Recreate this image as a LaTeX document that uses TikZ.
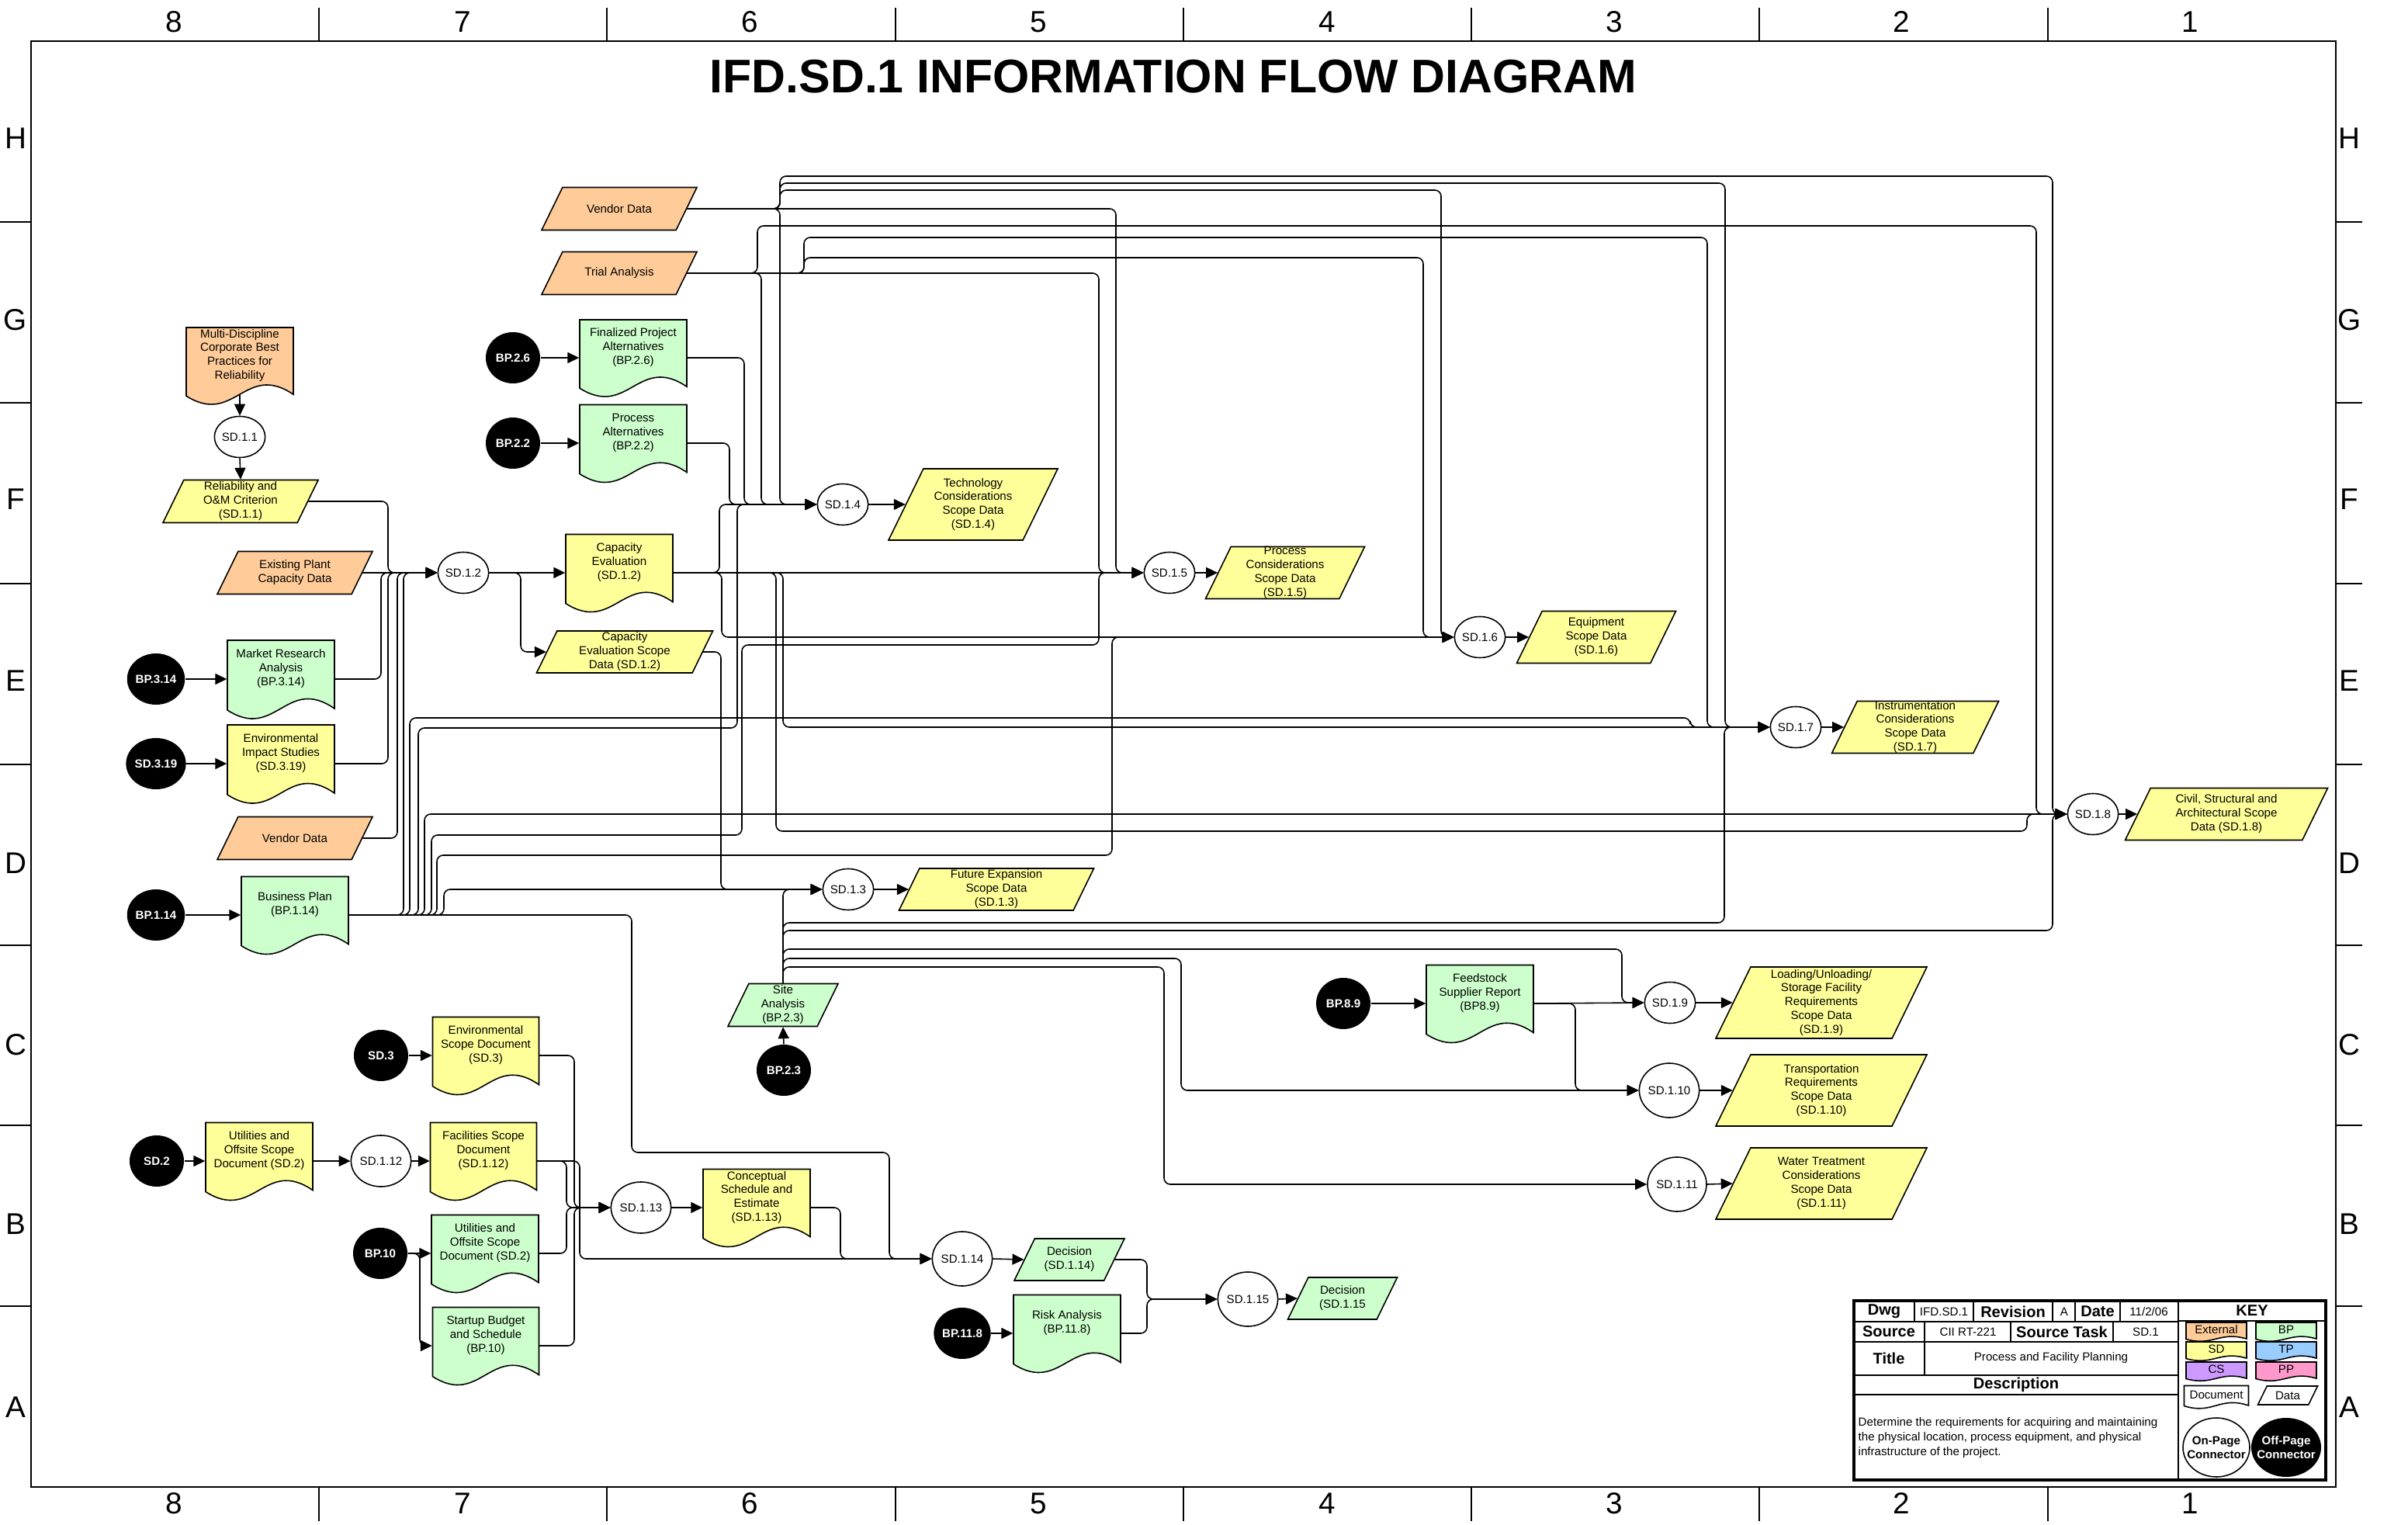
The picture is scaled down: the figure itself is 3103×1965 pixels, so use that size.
\documentclass[tikz,border=0pt]{standalone}
\usepackage{fontspec}
\setmainfont{Liberation Sans}
\usetikzlibrary{arrows.meta, positioning, shapes.geometric, calc, backgrounds}
\definecolor{cExt}{HTML}{FFCC99}
\definecolor{cBP}{HTML}{CCFFCC}
\definecolor{cSD}{HTML}{FFFF99}
\definecolor{cTP}{HTML}{99CCFF}
\definecolor{cCS}{HTML}{CC99FF}
\definecolor{cPP}{HTML}{FF99CC}
\tikzset{
  base/.style={font=\fontsize{4.3}{5.1}\selectfont, align=center, inner sep=0pt},
  docbox/.style={base, rectangle},
  databox/.style={base, rectangle},
  shapeline/.style={draw=black, line width=0.45pt},
  onpage/.style={base, ellipse, draw, line width=0.45pt, fill=white, minimum width=5.6mm, minimum height=5.3mm},
  onmid/.style={onpage, minimum width=7mm, minimum height=6.6mm},
  onbig/.style={onpage, minimum width=7.6mm, minimum height=7mm},
  offpage/.style={base, ellipse, fill=black, text=white, font=\fontsize{4.3}{5.1}\selectfont\bfseries,
                  minimum width=7mm, minimum height=6.6mm},
  flow/.style={-{Triangle[length=1.5mm, width=1.4mm]}, line width=0.45pt, rounded corners=0.8mm},
  frm/.style={line width=0.6pt},
  lbl/.style={font=\fontsize{11}{12}\selectfont, inner sep=0pt},
  tb/.style={font=\fontsize{4.3}{5.4}\selectfont, inner sep=0pt},
  tbh/.style={font=\fontsize{5.7}{6.5}\selectfont\bfseries, inner sep=0pt},
  tbline/.style={line width=0.8pt},
}
% document shape: named box + wavy outline behind it
\newcommand{\docnode}[7][1.3mm]{%
  \node[docbox, minimum width=#5*0.1mm, minimum height=#6*0.1mm] (#2) at (#4) {};
  \begin{scope}[on background layer]
    \path[shapeline, fill=#3, shift={(#4)}] ({-#5/2},{-#6/2}) -- ({#5/2},{-#6/2}) -- ({#5/2},{0.38*#6})
      .. controls ({0.05*#5},{-0.05*#6}) and ({-0.05*#5},{0.8*#6}) .. ({-#5/2},{0.4*#6}) -- cycle;
  \end{scope}
  \node[base] (#2t) at ([yshift=#1]#2.center) {#7};}
% data shape: parallelogram, node spans the mid line
\newcommand{\datanode}[6]{%
  \node[databox, minimum width={(#4-0.488*#5)*0.1mm}, minimum height=#5*0.1mm] (#1) at (#3) {#6};
  \begin{scope}[on background layer]
    \path[shapeline, fill=#2, shift={(#3)}] ({-#4/2+0.488*#5},{-#5/2}) -- ({#4/2},{-#5/2})
      -- ({#4/2-0.488*#5},{#5/2}) -- ({-#4/2},{#5/2}) -- cycle;
  \end{scope}}

\begin{document}
\begin{tikzpicture}[x=0.1mm, y=-0.1mm]
  \useasboundingbox (0,0) rectangle (3103,1965);

  % ---- drawing frame
  \draw[frm] (40,53) rectangle (3010,1916);
  \foreach \x in {411,782,1154,1525,1896,2267,2639} {
    \draw[frm] (\x,10) -- (\x,53);
    \draw[frm] (\x,1916) -- (\x,1960);
  }
  \foreach \y in {286,519,752,985,1218,1450,1683} {
    \draw[frm] (0,\y) -- (40,\y);
    \draw[frm] (3010,\y) -- (3044,\y);
  }
  \foreach \x/\n in {224/8,596/7,966/6,1338/5,1710/4,2080/3,2450/2,2822/1} {
    \node[lbl] (top\n) at (\x,28) {\n};
    \node[lbl] (bot\n) at (\x,1937) {\n};
  }
  \foreach \y/\r in {178/H,412/G,643/F,877/E,1112/D,1346/C,1577/B,1813/A} {
    \node[lbl] (lft\r) at (20,\y) {\r};
    \node[lbl] (rgt\r) at (3027,\y) {\r};
  }
  \node[font=\fontsize{17.3}{20}\selectfont\bfseries, inner sep=0pt] (title) at (1512,99) {IFD.SD.1 INFORMATION FLOW DIAGRAM};

  % ---- left column: inputs to SD.1.1 / SD.1.2
  \docnode{mdbp}{cExt}{309,471}{138}{98}{Multi-Discipline\\Corporate Best\\Practices for\\Reliability}
  \node[onpage] (c11) at (309,563) {SD.1.1};
  \datanode{relia}{cSD}{310,646}{200}{55}{Reliability and\\O\&M Criterion\\(SD.1.1)}
  \datanode{epcd}{cExt}{380,738}{200}{55}{Existing Plant\\Capacity Data}
  \node[offpage] (bp314) at (201,875) {BP.3.14};
  \docnode{mra}{cBP}{362,875}{138}{100}{Market Research\\Analysis\\(BP.3.14)}
  \node[offpage] (sd319) at (201,984) {SD.3.19};
  \docnode{eis}{cSD}{362,984}{138}{100}{Environmental\\Impact Studies\\(SD.3.19)}
  \datanode{vendb}{cExt}{380,1080}{200}{55}{Vendor Data}
  \node[offpage] (bp114) at (201,1179) {BP.1.14};
  \docnode{bplan}{cBP}{380,1179}{138}{99}{Business Plan\\(BP.1.14)}

  \node[onpage] (c12) at (597,738) {SD.1.2};
  \docnode{capev}{cSD}{798,738}{138}{99}{Capacity\\Evaluation\\(SD.1.2)}
  \datanode{capsd}{cSD}{805,840}{227}{54}{Capacity\\Evaluation Scope\\Data (SD.1.2)}

  % ---- upper inputs
  \datanode{venda}{cExt}{798,269}{200}{55}{Vendor Data}
  \datanode{trial}{cExt}{798,352}{200}{55}{Trial Analysis}
  \node[offpage] (bp26) at (661,461) {BP.2.6};
  \docnode{fpa}{cBP}{816,461}{138}{98}{Finalized Project\\Alternatives\\(BP.2.6)}
  \node[offpage] (bp22) at (661,571) {BP.2.2};
  \docnode{pa}{cBP}{816,571}{138}{99}{Process\\Alternatives\\(BP.2.2)}

  % ---- scope data processes
  \node[onpage] (c14) at (1086,650) {SD.1.4};
  \datanode{tech}{cSD}{1254,650}{218}{92}{Technology\\Considerations\\Scope Data\\(SD.1.4)}
  \node[onpage] (c15) at (1507,738) {SD.1.5};
  \datanode{proc}{cSD}{1656,738}{205}{67}{Process\\Considerations\\Scope Data\\(SD.1.5)}
  \node[onpage] (c16) at (1907,821) {SD.1.6};
  \datanode{equip}{cSD}{2057,821}{205}{67}{Equipment\\Scope Data\\(SD.1.6)}
  \node[onpage] (c17) at (2314,937) {SD.1.7};
  \datanode{instr}{cSD}{2468,937}{215}{67}{Instrumentation\\Considerations\\Scope Data\\(SD.1.7)}
  \node[onpage] (c18) at (2697,1049) {SD.1.8};
  \datanode{civil}{cSD}{2869,1049}{261}{67}{Civil, Structural and\\Architectural Scope\\Data (SD.1.8)}
  \node[onpage] (c13) at (1093,1146) {SD.1.3};
  \datanode{fut}{cSD}{1284,1146}{251}{54}{Future Expansion\\Scope Data\\(SD.1.3)}
  \datanode{site}{cBP}{1009,1295}{142}{55}{Site\\Analysis\\(BP.2.3)}
  \node[offpage] (bp23) at (1010,1379) {BP.2.3};

  \node[offpage] (bp89) at (1731,1293) {BP.8.9};
  \docnode{feed}{cBP}{1907,1293}{138}{99}{Feedstock\\Supplier Report\\(BP8.9)}
  \node[onpage] (c19) at (2152,1292) {SD.1.9};
  \datanode{load}{cSD}{2347,1292}{272}{92}{Loading/Unloading/\\Storage Facility\\Requirements\\Scope Data\\(SD.1.9)}
  \node[onbig] (c110) at (2151,1405) {SD.1.10};
  \datanode{transp}{cSD}{2347,1405}{272}{92}{Transportation\\Requirements\\Scope Data\\(SD.1.10)}
  \node[onbig] (c111) at (2161,1526) {SD.1.11};
  \datanode{water}{cSD}{2347,1525}{272}{92}{Water Treatment\\Considerations\\Scope Data\\(SD.1.11)}

  % ---- lower left: schedule and decision
  \node[offpage] (sd3) at (491,1360) {SD.3};
  \docnode{esd}{cSD}{626,1360}{137}{99}{Environmental\\Scope Document\\(SD.3)}
  \node[offpage] (sd2) at (202,1496) {SD.2};
  \docnode{uosd}{cSD}{334,1496}{138}{99}{Utilities and\\Offsite Scope\\Document (SD.2)}
  \node[onmid] (c112) at (491,1496) {SD.1.12};
  \docnode{fsd}{cSD}{623,1496}{137}{99}{Facilities Scope\\Document\\(SD.1.12)}
  \node[offpage] (bp10) at (490,1615) {BP.10};
  \docnode{uosdb}{cBP}{625,1615}{138}{99}{Utilities and\\Offsite Scope\\Document (SD.2)}
  \docnode{sbs}{cBP}{626,1734}{137}{99}{Startup Budget\\and Schedule\\(BP.10)}
  \node[onmid] (c113) at (826,1556) {SD.1.13};
  \docnode{cse}{cSD}{975,1556}{138}{99}{Conceptual\\Schedule and\\Estimate\\(SD.1.13)}
  \node[onbig] (c114) at (1240,1622) {SD.1.14};
  \datanode{dec14}{cBP}{1378,1623}{142}{54}{Decision\\(SD.1.14)}
  \node[offpage] (bp118) at (1240,1718) {BP.11.8};
  \docnode{risk}{cBP}{1375,1718}{138}{99}{Risk Analysis\\(BP.11.8)}
  \node[onbig] (c115) at (1608,1674) {SD.1.15};
  \datanode{dec15}{cBP}{1730,1673}{141}{54}{Decision\\(SD.1.15}

  % ---- connectors: SD.1.1 and SD.1.2
  \draw[flow] ([yshift=1.2mm]mdbp.south) -- (c11.north);
  \draw[flow] (c11.south) -- (relia.north);
  \draw[flow] (relia.east) -| (500,738) -- (c12.west);
  \draw[flow] (epcd.east) -- (c12.west);
  \draw[flow] (mra.east) -| (491,738) -- (c12.west);
  \draw[flow] (eis.east) -| (500,738) -- (c12.west);
  \draw[flow] (vendb.east) -| (512,738) -- (c12.west);
  \draw[flow] (bplan.east) -| (520,738) -- (c12.west);
  \foreach \a/\b in {bp314/mra, sd319/eis, bp114/bplan, bp26/fpa, bp22/pa, bp89/feed,
                     sd3/esd, sd2/uosd, bp10/uosdb, bp118/risk}
    \draw[flow] (\a.east) -- (\b.west);
  \draw[flow] (c12.east) -- (capev.west);
  \draw[flow] (c12.east) -| (671,840) -- (capsd.west);

  % ---- connectors: SD.1.4 to SD.1.8
  \draw[flow] (fpa.east) -| (959,650) -- (c14.west);
  \draw[flow] (pa.east) -| (940,650) -- (c14.west);
  \draw[flow] (trial.east) -| (981,650) -- (c14.west);
  \draw[flow] (venda.east) -| (1005,650) -- (c14.west);
  \draw[flow] (capev.east) -| (927,650) -- (c14.west);
  \draw[flow] (bplan.east) -| (539,938) -| (950,650) -- (c14.west);

  \draw[flow] (capev.east) -- (c15.west);
  \draw[flow] (trial.east) -| (1416,738) -- (c15.west);
  \draw[flow] (venda.east) -| (1438,738) -- (c15.west);
  \draw[flow] (bplan.east) -| (556,1076) -| (956,831) -| (1416,738) -- (c15.west);

  \draw[flow] (venda.east) -| (1005,245) -| (1857,821) -- (c16.west);
  \draw[flow] (trial.east) -| (1036,332) -| (1834,821) -- (c16.west);
  \draw[flow] (capev.east) -| (930,821) -- (c16.west);
  \draw[flow] (bplan.east) -| (563,1102) -| (1433,821) -- (c16.west);

  \draw[flow] (venda.east) -| (1005,236) -| (2223,937) -- (c17.west);
  \draw[flow] (trial.east) -| (1036,306) -| (2200,937) -- (c17.west);
  \draw[flow] (capev.east) -| (1009,937) -- (c17.west);
  \draw[flow] (bplan.east) -| (528,925) -| (2178,937) -- (c17.west);
  \draw[flow] (site.north) |- (2222,1189) |- (c17.west);

  \draw[flow] (venda.east) -| (1005,227) -| (2645,1049) -- (c18.west);
  \draw[flow] (trial.east) -| (976,291) -| (2624,1049) -- (c18.west);
  \draw[flow] (bplan.east) -| (547,1049) -- (c18.west);
  \draw[flow] (capev.east) -| (1000,1071) -| (2612,1049) -- (c18.west);
  \draw[flow] (site.north) |- (2645,1199) |- (c18.west);

  % ---- connectors: SD.1.3, SD.1.9 to SD.1.11
  \draw[flow] (capsd.east) -| (929,1146) -- (c13.west);
  \draw[flow] (bplan.east) -| (572,1146) -- (c13.west);
  \draw[flow] (site.north) |- (c13.west);
  \draw[flow] (bp23.north) -- (site.south);
  \draw[flow] (site.north) |- (2090,1223) |- (c19.west);
  \draw[flow] (site.north) |- (1522,1235) |- (c110.west);
  \draw[flow] (site.north) |- (1500,1246) |- (c111.west);
  \draw[flow] (feed.east) -- (c19.west);
  \draw[flow] (feed.east) -| (2030,1405) -- (c110.west);
  \foreach \a/\b in {c13/fut, c14/tech, c15/proc, c16/equip, c17/instr, c18/civil, c19/load,
                     c110/transp, c111/water, c112/fsd, c113/cse, c114/dec14, c115/dec15}
    \draw[flow] (\a.east) -- (\b.west);

  % ---- connectors: SD.1.12 to SD.1.15
  \draw[flow] (uosd.east) -- (c112.west);
  \draw[flow] (bp10.east) -| (541,1734) -- (sbs.west);
  \draw[flow] (esd.east) -| (740,1556) -- (c113.west);
  \draw[flow] (sbs.east) -| (740,1556) -- (c113.west);
  \draw[flow] (fsd.east) -| (730,1556) -- (c113.west);
  \draw[flow] (uosdb.east) -| (730,1556) -- (c113.west);
  \draw[flow] (fsd.east) -| (747,1622) -- (c114.west);
  \draw[flow] (cse.east) -| (1083,1622) -- (c114.west);
  \draw[flow] (bplan.east) -| (814,1485) -| (1146,1622) -- (c114.west);
  \draw[flow] (dec14.east) -| (1478,1674) -- (c115.west);
  \draw[flow] (risk.east) -| (1478,1674) -- (c115.west);

  % ---- title block
  \draw[line width=1.4pt] (2389,1676) rectangle (2997,1907);
  \draw[tbline] (2807,1676) -- (2807,1907);
  \foreach \y in {1703,1729,1772,1797} \draw[tbline] (2389,\y) -- (2807,\y);
  \draw[tbline] (2807,1702) -- (2997,1702);
  \foreach \x in {2467,2543,2645,2674,2732} \draw[tbline] (\x,1676) -- (\x,1703);
  \foreach \x in {2480,2591,2723} \draw[tbline] (\x,1703) -- (\x,1729);
  \draw[tbline] (2480,1729) -- (2480,1772);
  \node[tbh] (tDwg) at (2428,1690) {Dwg};
  \node[tb] (tDwgV) at (2505,1690) {IFD.SD.1};
  \node[tbh] (tRev) at (2594,1690) {Revision};
  \node[tb] (tRevV) at (2660,1690) {A};
  \node[tbh] (tDate) at (2703,1690) {Date};
  \node[tb] (tDateV) at (2769,1690) {11/2/06};
  \node[tbh] (tSrc) at (2434,1716) {Source};
  \node[tb] (tSrcV) at (2536,1716) {CII RT-221};
  \node[tbh] (tTask) at (2657,1716) {Source Task};
  \node[tb] (tTaskV) at (2765,1716) {SD.1};
  \node[tbh] (tTitle) at (2434,1750) {Title};
  \node[tb] (tTitleV) at (2643,1750) {Process and Facility Planning};
  \node[tbh] (tDesc) at (2598,1784) {Description};
  \node[tb, anchor=north west, align=left] (tDescV) at (2394,1826)
       {Determine the requirements for acquiring and maintaining\\the physical location, process equipment, and physical\\infrastructure of the project.};

  % ---- key
  \node[tbh] (tKey) at (2902,1689) {KEY};
  \docnode[0.3mm]{kExt}{cExt}{2856,1716}{78}{24}{External}
  \docnode[0.3mm]{kBP}{cBP}{2946,1716}{78}{24}{BP}
  \docnode[0.3mm]{kSD}{cSD}{2856,1741}{78}{24}{SD}
  \docnode[0.3mm]{kTP}{cTP}{2946,1741}{78}{24}{TP}
  \docnode[0.3mm]{kCS}{cCS}{2856,1767}{78}{24}{CS}
  \docnode[0.3mm]{kPP}{cPP}{2946,1767}{78}{24}{PP}
  \docnode[0.3mm]{kDoc}{white}{2856,1800}{83}{29}{Document}
  \datanode{kData}{white}{2948,1798}{77}{24}{Data}
  \node[onpage, minimum width=8.6mm, minimum height=7.6mm] (kOn) at (2856,1865) {};
  \node[base, font=\fontsize{4.3}{5.1}\selectfont\bfseries] (kOnT) at (kOn.center) {On-Page\\Connector};
  \node[offpage, minimum width=9mm, minimum height=7.6mm] (kOff) at (2946,1865) {};
  \node[base, text=white, font=\fontsize{4.3}{5.1}\selectfont\bfseries] (kOffT) at (kOff.center) {Off-Page\\Connector};
\end{tikzpicture}
\end{document}
